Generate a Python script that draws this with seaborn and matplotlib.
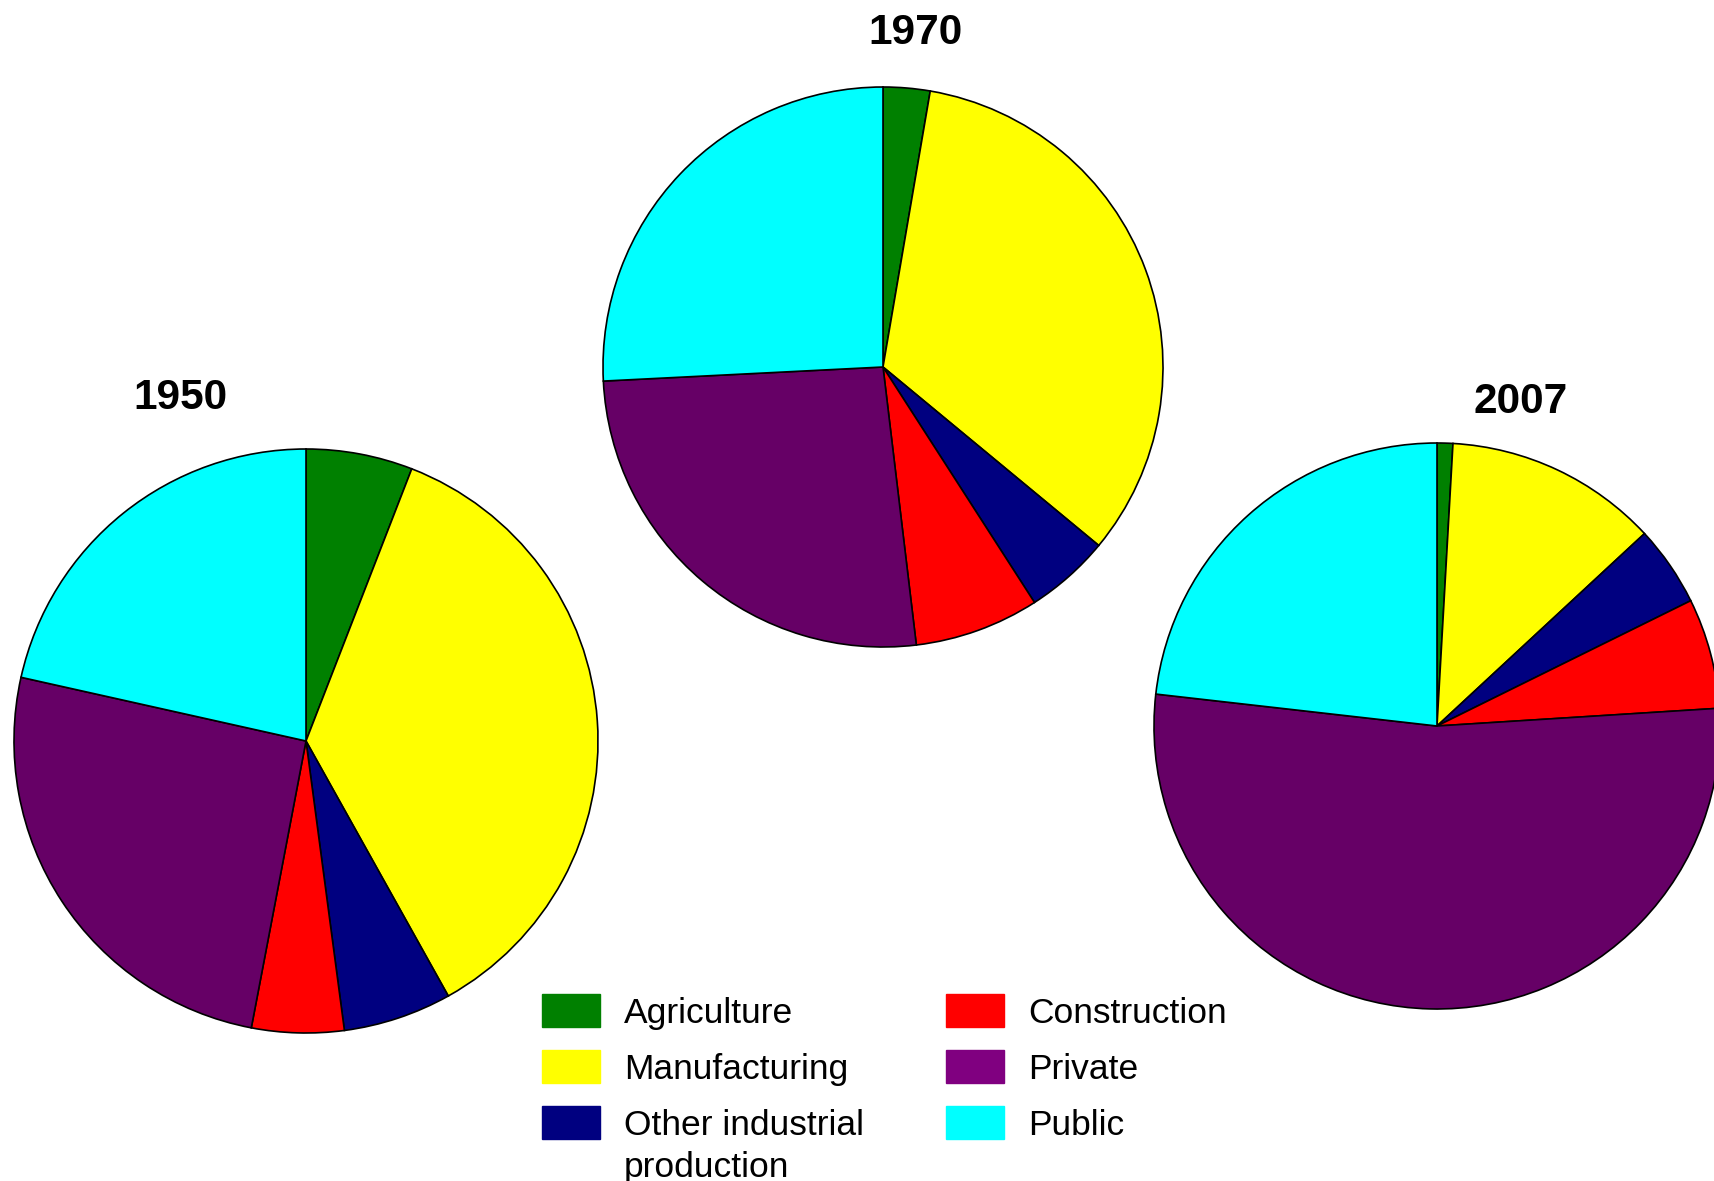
import matplotlib
matplotlib.use("Agg")
import matplotlib.pyplot as plt
from matplotlib.patches import Patch
import seaborn as sns

# Sector shares (%), clockwise from 12 o'clock
sectors = ["Agriculture", "Manufacturing", "Other industrial\nproduction",
           "Construction", "Private", "Public"]
share_1950 = [5.9, 36.0, 6.0, 5.1, 25.5, 21.5]
share_1970 = [2.7, 33.3, 4.9, 7.2, 26.1, 25.8]
share_2007 = [0.9, 12.2, 4.6, 6.3, 52.8, 23.2]
years = ["1950", "1970", "2007"]

pie_colors = ["#008000", "#FFFF00", "#000080", "#FF0000", "#660066", "#00FFFF"]
legend_colors = ["#008000", "#FFFF00", "#000080", "#FF0000", "#800080", "#00FFFF"]

sns.set_theme(style="white")
plt.rcParams["font.family"] = ["Liberation Sans", "DejaVu Sans"]
plt.rcParams["text.color"] = "black"

W, H = 1714, 1181
fig = plt.figure(figsize=(W / 100, H / 100), dpi=100)
ax = fig.add_axes([0, 0, 1, 1])

# layout in pixel space: pie centre, radius, title position
layout = {
    "1950": dict(center=(306, 741), r=292, title=(180, 398)),
    "1970": dict(center=(883, 367), r=280, title=(916, 33)),
    "2007": dict(center=(1437, 726), r=283, title=(1521, 402)),
}

for year, vals in zip(years, [share_1950, share_1970, share_2007]):
    lay = layout[year]
    cx, cy = lay["center"]
    ax.pie(vals, colors=pie_colors, startangle=90, counterclock=False,
           center=(cx, H - cy), radius=lay["r"],
           wedgeprops=dict(edgecolor="black", linewidth=1.2))
    tx, ty = lay["title"]
    ax.text(tx, H - ty, year, ha="center", va="center",
            fontsize=30.5, fontweight="bold", color="black")

ax.set_xlim(0, W)
ax.set_ylim(0, H)
ax.set_aspect("equal")
ax.axis("off")

# legend: first line of each label, wrapped line added underneath
handles = [Patch(facecolor=c, edgecolor=c) for c in legend_colors]
first_lines = [s.split("\n")[0] for s in sectors]
leg = fig.legend(handles, first_lines, ncol=2, frameon=False, fontsize=25.5,
                 labelcolor="black", loc="upper left",
                 bbox_to_anchor=(542 / W, 1 - 994 / H), borderaxespad=0,
                 borderpad=0, handlelength=1.64, handleheight=1.05,
                 handletextpad=0.68, columnspacing=2.3, labelspacing=0.58)

fig.canvas.draw()
renderer = fig.canvas.get_renderer()
for txt, full in zip(leg.get_texts(), sectors):
    extra = full.split("\n")[1:]
    if extra:
        bb = txt.get_window_extent(renderer)
        fig.text(bb.x0 / W, (bb.y1 - 42) / H, "\n".join(extra),
                 fontsize=25.5, color="black", ha="left", va="top")

fig.savefig("out.png", dpi=100, facecolor="white")
